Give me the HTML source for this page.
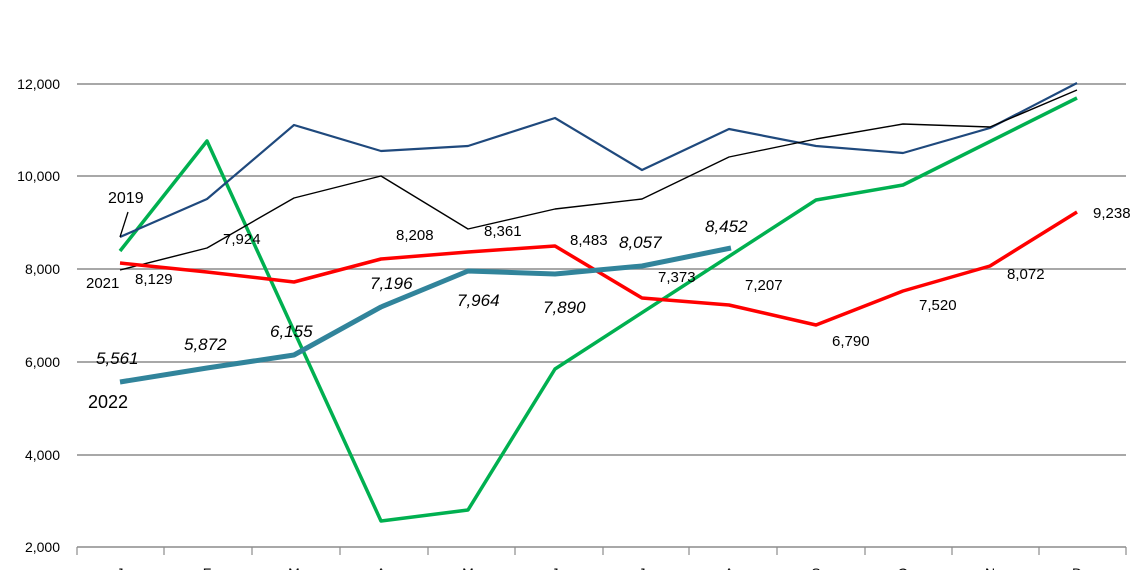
<!DOCTYPE html>
<html><head><meta charset="utf-8"><style>
body{margin:0;background:#fff;}
svg{display:block;font-family:"Liberation Sans",sans-serif;}
</style></head><body>
<svg width="1140" height="570" viewBox="0 0 1140 570" xmlns="http://www.w3.org/2000/svg">
<rect width="1140" height="570" fill="#fff"/>
<g stroke="#8c8c8c" stroke-width="1.5">
<line x1="77" y1="84" x2="1126" y2="84"/>
<line x1="77" y1="176" x2="1126" y2="176"/>
<line x1="77" y1="269" x2="1126" y2="269"/>
<line x1="77" y1="362" x2="1126" y2="362"/>
<line x1="77" y1="455" x2="1126" y2="455"/>
<line x1="77" y1="547" x2="1126" y2="547"/>
</g>
<g stroke="#8c8c8c" stroke-width="1.2">
<line x1="77" y1="547" x2="77" y2="555"/><line x1="164" y1="547" x2="164" y2="555"/><line x1="252" y1="547" x2="252" y2="555"/><line x1="340" y1="547" x2="340" y2="555"/><line x1="428" y1="547" x2="428" y2="555"/><line x1="515" y1="547" x2="515" y2="555"/><line x1="603" y1="547" x2="603" y2="555"/><line x1="689" y1="547" x2="689" y2="555"/><line x1="777" y1="547" x2="777" y2="555"/><line x1="865" y1="547" x2="865" y2="555"/><line x1="952" y1="547" x2="952" y2="555"/><line x1="1039" y1="547" x2="1039" y2="555"/><line x1="1126" y1="547" x2="1126" y2="555"/>
</g>
<g font-size="14" fill="#000" text-anchor="end">
<text x="60" y="89">12,000</text><text x="60" y="181">10,000</text><text x="60" y="274">8,000</text><text x="60" y="367">6,000</text><text x="60" y="460">4,000</text><text x="60" y="552">2,000</text>
</g>
<g font-size="14" fill="#000" text-anchor="middle">
<text x="120" y="578">J</text><text x="207" y="578">F</text><text x="294" y="578">M</text><text x="381" y="578">A</text><text x="468" y="578">M</text><text x="555" y="578">J</text><text x="642" y="578">J</text><text x="729" y="578">A</text><text x="816" y="578">S</text><text x="903" y="578">O</text><text x="990" y="578">N</text><text x="1077" y="578">D</text>
</g>
<polyline fill="none" stroke="#00b050" stroke-width="3.5" stroke-linejoin="round" points="120,251 207,141 381,521 468,510 555,369 816,200 903,185 1077,98"/>
<polyline fill="none" stroke="#1f497d" stroke-width="2.2" stroke-linejoin="round" points="120,237 207,199 294,125 381,151 468,146 555,118 642,170 729,129 816,146 903,153 990,128 1077,83"/>
<polyline fill="none" stroke="#000" stroke-width="1.4" stroke-linejoin="round" points="120,270 207,248 294,198 381,176 468,229 555,209 642,199 729,157 816,139 903,124 990,127 1077,90"/>
<polyline fill="none" stroke="#ff0000" stroke-width="3.5" stroke-linejoin="round" points="120,263 207,272 294,282 381,259 468,252 555,246 642,298 729,305 816,325 903,291 990,266 1077,212"/>
<polyline fill="none" stroke="#31849b" stroke-width="5" stroke-linejoin="round" points="120,382 207,368 294,355 381,307 468,271 555,274 642,266 731,248"/>
<line x1="120" y1="237" x2="128" y2="212" stroke="#000" stroke-width="1.3"/>
<text x="108" y="203" font-size="16">2019</text>
<text x="86" y="288" font-size="15">2021</text>
<text x="88" y="408" font-size="18">2022</text>
<g font-size="15" fill="#000">
<text x="135" y="284">8,129</text><text x="223" y="244">7,924</text><text x="396" y="240">8,208</text><text x="484" y="236">8,361</text><text x="570" y="245">8,483</text><text x="658" y="282">7,373</text><text x="745" y="290">7,207</text><text x="832" y="346">6,790</text><text x="919" y="310">7,520</text><text x="1007" y="279">8,072</text><text x="1093" y="218">9,238</text>
</g>
<g font-size="17" font-style="italic" fill="#000">
<text x="96" y="364">5,561</text><text x="184" y="350">5,872</text><text x="270" y="337">6,155</text><text x="370" y="289">7,196</text><text x="457" y="306">7,964</text><text x="543" y="313">7,890</text><text x="619" y="248">8,057</text><text x="705" y="232">8,452</text>
</g>
</svg>
</body></html>
